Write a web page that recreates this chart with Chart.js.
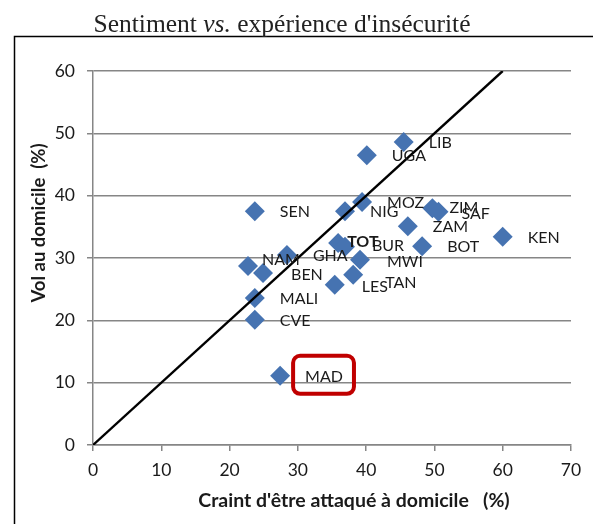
<!DOCTYPE html>
<html>
<head>
<meta charset="utf-8">
<script src="https://cdn.jsdelivr.net/npm/chart.js@4.4.0/dist/chart.umd.min.js"></script>
<style>
    body { margin: 0; background: #fff; }
    #wrap { width: 593px; height: 524px; position: relative; }
</style>
</head>
<body>
<div id="wrap"><canvas id="chart"></canvas></div>
<script>
// Pays (codes)
const countries = ['LIB', 'UGA', 'SEN', 'NIG', 'MOZ', 'ZIM', 'SAF', 'ZAM', 'KEN', 'BOT', 'TOT',
    'BUR', 'MWI', 'GHA', 'NAM', 'BEN', 'LES', 'TAN', 'MALI', 'CVE', 'MAD'];

// Craint d'être attaqué à domicile (%)
const fearValues = [45.5, 40.1, 23.7, 36.9, 39.4, 49.7, 50.6, 46.1, 60.0, 48.2, 35.9,
    36.9, 39.1, 28.4, 22.7, 24.9, 35.4, 38.1, 23.7, 23.7, 27.4];

// Vol au domicile (%)
const theftValues = [48.6, 46.5, 37.5, 37.5, 39.0, 38.0, 37.4, 35.1, 33.4, 31.9, 32.4,
    31.8, 29.7, 30.5, 28.7, 27.6, 25.7, 27.3, 23.6, 20.1, 11.1];

// Diagonale y = x
const diagonal = [0, 60];

// Graduations
const xTicks = [0, 10, 20, 30, 40, 50, 60, 70];
const yTicks = [0, 10, 20, 30, 40, 50, 60];

// Décalage des étiquettes (px)
const labelOffsets = {
    ZIM: [17, 0], SAF: [23, 2], NAM: [14, -6], TOT: [9, -1], BUR: [27, -1],
    MWI: [27, 2], TAN: [32, 8], LES: [27, 2], BEN: [28, 2], GHA: [26, 1]
};
const boldLabels = ['TOT'];
const boxedLabels = ['MAD'];

const labelFont = 'Lato, "Open Sans", sans-serif';

// Étiquettes des points + encadré MAD
const pointLabels = {
    id: 'pointLabels',
    afterDatasetsDraw(chart) {
        const ctx = chart.ctx;
        const meta = chart.getDatasetMeta(0);
        ctx.save();
        ctx.textAlign = 'left';
        ctx.textBaseline = 'middle';
        ctx.fillStyle = '#1a1a1a';
        meta.data.forEach((pt, i) => {
            const name = countries[i];
            const off = labelOffsets[name] || [25, 1];
            const x = pt.x + off[0];
            const y = pt.y + off[1];
            ctx.font = (boldLabels.includes(name) ? 'bold ' : '') + '16px ' + labelFont;
            ctx.fillText(name, x, y);
            if (boxedLabels.includes(name)) {
                const w = ctx.measureText(name).width;
                ctx.strokeStyle = '#c00000';
                ctx.lineWidth = 4;
                ctx.beginPath();
                ctx.roundRect(x - 12, y - 21, w + 23, 38, 7);
                ctx.stroke();
            }
        });
        ctx.restore();
    }
};

// Titre, cadre et titres d'axes
const decorations = {
    id: 'decorations',
    afterDraw(chart) {
        const ctx = chart.ctx;
        ctx.save();

        // cadre
        ctx.strokeStyle = '#000';
        ctx.lineWidth = 1.5;
        ctx.beginPath();
        ctx.moveTo(14.5, 524);
        ctx.lineTo(14.5, 36.5);
        ctx.lineTo(593, 36.5);
        ctx.stroke();

        // titre
        const serif = '25.5px "Liberation Serif", serif';
        const parts = [
            ['Sentiment ', serif],
            ['vs.', 'italic ' + serif],
            [' expérience d\'insécurité', serif]
        ];
        let total = 0;
        parts.forEach(p => { ctx.font = p[1]; total += ctx.measureText(p[0]).width; });
        let x = 282 - total / 2;
        ctx.fillStyle = '#222';
        ctx.textBaseline = 'alphabetic';
        ctx.textAlign = 'left';
        parts.forEach(p => {
            ctx.font = p[1];
            ctx.fillText(p[0], x, 32);
            x += ctx.measureText(p[0]).width;
        });

        // titres d'axes
        ctx.fillStyle = '#1a1a1a';
        ctx.textAlign = 'center';
        ctx.textBaseline = 'middle';
        ctx.font = 'bold 19.5px ' + labelFont;
        ctx.fillText('Craint d\'être attaqué à domicile   (%)', 354, 501);
        ctx.font = 'bold 18.5px ' + labelFont;
        ctx.translate(39, 223);
        ctx.rotate(-Math.PI / 2);
        ctx.fillText('Vol au domicile  (%)', 0, 0);
        ctx.restore();
    }
};

const gridColor = '#868686';

new Chart(document.getElementById('chart'), {
    data: {
        datasets: [{
            type: 'scatter',
            data: fearValues.map((v, i) => ({ x: v, y: theftValues[i] })),
            pointStyle: 'rectRot',
            pointRadius: 10,
            pointHoverRadius: 10,
            backgroundColor: '#4673b1',
            borderColor: '#4673b1',
            borderWidth: 0,
            order: 2
        }, {
            type: 'line',
            data: diagonal.map(v => ({ x: v, y: v })),
            borderColor: '#000',
            borderWidth: 2.4,
            pointRadius: 0,
            order: 1
        }]
    },
    options: {
        responsive: true,
        maintainAspectRatio: false,
        animation: false,
        events: [],
        layout: { padding: { top: 71, right: 22, left: 0, bottom: 0 } },
        plugins: {
            legend: { display: false },
            tooltip: { enabled: false }
        },
        scales: {
            x: {
                type: 'linear',
                min: 0,
                max: 70,
                afterBuildTicks: s => { s.ticks = xTicks.map(v => ({ value: v })); },
                afterFit: s => { s.height = 79; },
                grid: { drawOnChartArea: false, color: gridColor, lineWidth: 1.5, tickLength: 6 },
                border: { color: gridColor, width: 1.5 },
                ticks: { color: '#1a1a1a', font: { family: labelFont, size: 17.5 }, padding: 9 }
            },
            y: {
                type: 'linear',
                min: 0,
                max: 60,
                afterBuildTicks: s => { s.ticks = yTicks.map(v => ({ value: v })); },
                afterFit: s => { s.width = 93; },
                grid: { color: gridColor, lineWidth: 1.5, tickLength: 6 },
                border: { color: gridColor, width: 1.5 },
                ticks: { color: '#1a1a1a', font: { family: labelFont, size: 17.5 }, padding: 12 }
            }
        }
    },
    plugins: [pointLabels, decorations]
});
</script>
</body>
</html>
